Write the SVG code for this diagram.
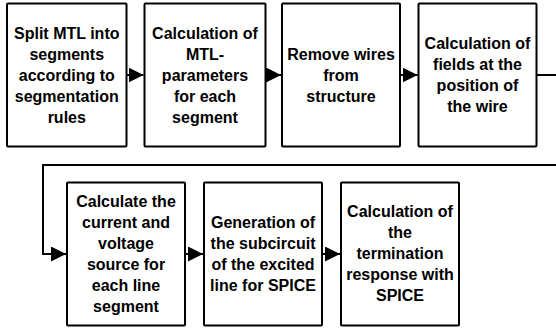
<svg xmlns="http://www.w3.org/2000/svg" width="556" height="332" viewBox="0 0 556 332">
  <style>
    .box { fill: #ffffff; stroke: #000000; stroke-width: 2; }
    .lbl { font-family: "Liberation Sans", Arial, sans-serif; font-size: 16px; font-weight: bold; fill: #000000; text-anchor: middle; }
    .wire { fill: none; stroke: #000000; stroke-width: 2; }
  </style>
  <defs>
    <marker id="arrow" markerUnits="userSpaceOnUse" markerWidth="15" markerHeight="15" viewBox="0 0 14 14" refX="14" refY="7" orient="auto">
      <path d="M0,0 L14,7 L0,14 Z" fill="#000000"/>
    </marker>
  </defs>

  <!-- top row -->
  <g id="split">
    <rect class="box" x="7" y="3.5" width="119.5" height="143" rx="1"/>
    <text class="lbl" x="66.75" y="39">Split MTL into</text>
    <text class="lbl" x="66.75" y="60">segments</text>
    <text class="lbl" x="66.75" y="81">according to</text>
    <text class="lbl" x="66.75" y="102">segmentation</text>
    <text class="lbl" x="66.75" y="123">rules</text>
  </g>
  <g id="mtl-params">
    <rect class="box" x="144.5" y="3.5" width="121" height="143" rx="1"/>
    <text class="lbl" x="205" y="39">Calculation of</text>
    <text class="lbl" x="205" y="60">MTL-</text>
    <text class="lbl" x="205" y="81">parameters</text>
    <text class="lbl" x="205" y="102">for each</text>
    <text class="lbl" x="205" y="123">segment</text>
  </g>
  <g id="remove-wires">
    <rect class="box" x="282" y="3.5" width="118" height="143" rx="1"/>
    <text class="lbl" x="341" y="60">Remove wires</text>
    <text class="lbl" x="341" y="81">from</text>
    <text class="lbl" x="341" y="102">structure</text>
  </g>
  <g id="fields">
    <rect class="box" x="418.5" y="3.5" width="118" height="143" rx="1"/>
    <text class="lbl" x="477.5" y="49">Calculation of</text>
    <text class="lbl" x="477.5" y="70">fields at the</text>
    <text class="lbl" x="477.5" y="91">position of</text>
    <text class="lbl" x="477.5" y="112">the wire</text>
  </g>

  <!-- bottom row -->
  <g id="sources">
    <rect class="box" x="67" y="182.5" width="118" height="143" rx="1"/>
    <text class="lbl" x="126" y="207">Calculate the</text>
    <text class="lbl" x="126" y="228">current and</text>
    <text class="lbl" x="126" y="249">voltage</text>
    <text class="lbl" x="126" y="270">source for</text>
    <text class="lbl" x="126" y="291">each line</text>
    <text class="lbl" x="126" y="312">segment</text>
  </g>
  <g id="subcircuit">
    <rect class="box" x="204" y="182.5" width="118" height="143" rx="1"/>
    <text class="lbl" x="263" y="228">Generation of</text>
    <text class="lbl" x="263" y="249">the subcircuit</text>
    <text class="lbl" x="263" y="270">of the excited</text>
    <text class="lbl" x="263" y="291">line for SPICE</text>
  </g>
  <g id="spice-response">
    <rect class="box" x="341" y="182.5" width="118" height="143" rx="1"/>
    <text class="lbl" x="400" y="217">Calculation of</text>
    <text class="lbl" x="400" y="238">the</text>
    <text class="lbl" x="400" y="259">termination</text>
    <text class="lbl" x="400" y="280">response with</text>
    <text class="lbl" x="400" y="301">SPICE</text>
  </g>

  <!-- connectors -->
  <g id="connectors">
    <path class="wire" d="M126.5,75 H143.5" marker-end="url(#arrow)"/>
    <path class="wire" d="M265.5,75 H281" marker-end="url(#arrow)"/>
    <path class="wire" d="M400,75 H417.5" marker-end="url(#arrow)"/>
    <path class="wire" d="M536.5,75 H562 V165 H43 V254 H66" marker-end="url(#arrow)"/>
    <path class="wire" d="M185,254 H203" marker-end="url(#arrow)"/>
    <path class="wire" d="M322,254 H340" marker-end="url(#arrow)"/>
  </g>
</svg>
